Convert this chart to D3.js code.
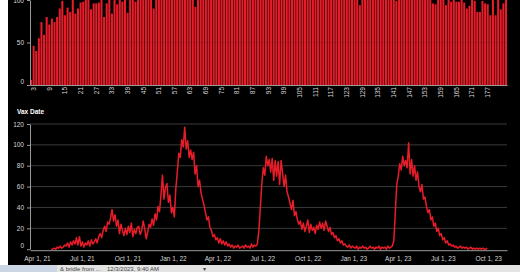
<!DOCTYPE html>
<html lang="en">
<head>
<meta charset="UTF-8">
<title>Vax Date</title>
<script src="https://cdn.jsdelivr.net/npm/d3@7"></script>
<style>
  body { margin: 0; background: #fff; }
  svg { display: block; font-family: "Liberation Sans", Arial, sans-serif; }
</style>
</head>
<body>
<div id="chart"></div>
<script>
// ---- top bar chart ----
const barCats = d3.range(2, 185);
const barXTicks = [3, 9, 15, 21, 27, 33, 39, 45, 51, 57, 63, 69, 75, 81, 87, 93, 99, 105, 111, 117, 123, 129, 135, 141, 147, 153, 159, 165, 171, 177];
const barYTicks = [0, 50, 100];
const barValues = [
  6, 46, 40, 55, 74, 59, 80, 71, 78, 74, 80, 90, 99, 82, 91, 86, 105, 84, 90, 97,
  98, 102, 104, 89, 96, 96, 97, 101, 80, 96, 103, 84, 106, 95, 104, 98, 107, 85,
  104, 108, 98, 110, 106, 112, 105, 109, 113, 90,
  108, 111, 104, 115, 109, 112, 107, 116, 110, 105, 113, 108, 117, 111, 106, 92,
  112, 118, 109, 121, 115, 108, 119, 113, 124, 110, 117, 106, 122, 114, 119, 111, 125, 116, 108, 120,
  113, 118, 110, 123, 116, 109, 121, 114, 119, 112, 126, 117, 108, 122, 115, 120, 111, 118, 124, 109,
  116, 121, 113, 107, 119, 125, 112, 117, 110, 122, 114, 118, 109, 123, 116, 111, 120, 113, 107, 119,
  115, 110, 94,
  108, 115, 111, 119, 106, 113, 117, 104, 112, 109, 116, 103, 110, 99,
  107, 112, 104, 109, 115, 102, 108, 111, 105, 103, 109, 101, 106,
  96, 95, 101, 103, 100, 94, 100, 98, 101, 98, 98, 100, 97, 90, 93, 102, 99, 86, 86, 99,
  96, 95, 82, 101, 82, 100, 89, 96, 100
];

// ---- bottom line chart (one value every 3 days) ----
const vaxStart = "2021-04-30";
const vaxStepDays = 3;
const vaxValues = [
  0, 0, 1, 0, 2, 1, 3, 1, 2, 4,
  3, 6, 2, 7, 4, 8, 5, 11, 4, 12,
  3, 7, 2, 6, 4, 8, 3, 9, 5, 7,
  10, 6, 12, 15, 11, 18, 22, 17, 26, 24,
  30, 38, 27, 33, 22, 28, 15, 24, 18, 13,
  20, 14, 22, 16, 25, 12, 19, 15, 21, 22,
  14, 18, 27, 20, 10, 16, 24, 21, 29, 23,
  34, 28, 41, 36, 52, 71, 48, 59, 63, 45,
  52, 35, 40, 31, 58, 74, 92, 88, 105, 98,
  117, 96, 104, 88, 95, 86, 93, 72, 80, 60,
  66, 54, 48, 42, 35, 28, 31, 21, 18, 12,
  14, 9, 11, 6, 10, 5, 8, 4, 7, 3,
  5, 2, 4, 1, 3, 2, 4, 1, 2, 3,
  1, 4, 2, 3, 1, 5, 2, 4, 3, 5,
  18, 40, 63, 78, 71, 89, 80, 86, 74, 87,
  66, 85, 70, 84, 62, 85, 73, 60, 71, 55,
  50, 44, 38, 47, 32, 36, 28, 24, 27, 19,
  25, 17, 22, 28, 16, 24, 18, 21, 15, 23,
  19, 26, 20, 25, 18, 27, 22, 17, 21, 14,
  16, 11, 13, 8, 10, 6, 8, 4, 5, 3,
  2, 4, 1, 3, 2, 1, 3, 0, 2, 1,
  3, 1, 2, 0, 1, 3, 1, 2, 0, 2,
  1, 3, 0, 2, 1, 2, 0, 3, 1, 2,
  3, 8, 35, 62, 70, 82, 76, 89, 80, 85,
  78, 102, 72, 86, 70, 80, 66, 74, 60, 55,
  62, 48, 50, 41, 35, 38, 28, 31, 22, 25,
  17, 20, 13, 15, 9, 11, 6, 8, 4, 5,
  3, 4, 2, 3, 1, 2, 3, 1, 2, 1,
  2, 0, 1, 2, 0, 1, 0, 1, 0, 1,
  0, 1, 0, 0, 1
];
const vaxXTicks = ["2021-04-01", "2021-07-01", "2021-10-01", "2022-01-01", "2022-04-01", "2022-07-01",
                   "2022-10-01", "2023-01-01", "2023-04-01", "2023-07-01", "2023-10-01"];
const vaxYTicks = [0, 20, 40, 60, 80, 100, 120];

const W = 520, H = 272;
const red = "#e91d2a";
const parse = d3.timeParse("%Y-%m-%d");

const svg = d3.select("#chart").append("svg").attr("width", W).attr("height", H);
svg.append("rect").attr("width", W).attr("height", H).attr("fill", "#fff");
svg.append("rect").attr("x", 8).attr("width", W - 8).attr("height", 265).attr("fill", "#000");

function styleAxis(g) {
  g.select(".domain").attr("stroke", "#9a9a9a");
  g.selectAll(".tick line").attr("stroke", "#9a9a9a");
  g.selectAll(".tick text").attr("fill", "#d6d6d6").style("font-size", "6.5px");
}

// top chart
const xBar = d3.scaleBand().domain(barCats).range([30, 507]).paddingInner(0.22).paddingOuter(0);
const yBar = d3.scaleLinear().domain([0, 100]).range([85, 0]);

const barG = svg.append("g");
barG.selectAll("rect.bar")
  .data(barValues)
  .join("rect")
  .attr("class", "bar")
  .attr("x", (d, i) => xBar(barCats[i]))
  .attr("y", d => yBar(d))
  .attr("width", xBar.bandwidth())
  .attr("height", d => yBar(0) - yBar(d))
  .attr("fill", red);

barG.append("line")
  .attr("x1", 30).attr("x2", 507)
  .attr("y1", yBar(50)).attr("y2", yBar(50))
  .attr("stroke", "#000").attr("stroke-opacity", 0.1);

barG.append("g")
  .attr("transform", "translate(30,0)")
  .call(d3.axisLeft(yBar).tickValues(barYTicks).tickSize(3).tickSizeOuter(0).tickPadding(3))
  .call(styleAxis)
  .selectAll(".tick text").filter(d => d === 0).attr("y", -4);

barG.append("g")
  .attr("transform", `translate(0,${yBar(0)})`)
  .call(d3.axisBottom(xBar).tickValues(barXTicks).tickSize(0).tickSizeOuter(0))
  .call(styleAxis)
  .selectAll(".tick text")
  .attr("transform", "rotate(-90)")
  .attr("x", -2)
  .attr("y", 0)
  .attr("dy", "0.35em")
  .style("text-anchor", "end");

// bottom chart
const xDate = d3.scaleTime().domain([parse("2021-03-18"), parse("2023-11-08")]).range([30, 507]);
const yVax = d3.scaleLinear().domain([0, 120]).range([249.2, 124]);

const lineG = svg.append("g");
lineG.append("text")
  .attr("x", 17).attr("y", 113.5)
  .attr("fill", "#fff")
  .style("font-size", "6.5px")
  .style("font-weight", "bold")
  .text("Vax Date");

lineG.selectAll("line.grid")
  .data(vaxYTicks.filter(d => d > 0))
  .join("line")
  .attr("class", "grid")
  .attr("x1", 30).attr("x2", 507)
  .attr("y1", d => yVax(d)).attr("y2", d => yVax(d))
  .attr("stroke", "#3a3a3a");

const startDate = parse(vaxStart);
const line = d3.line()
  .x((d, i) => xDate(d3.timeDay.offset(startDate, i * vaxStepDays)))
  .y(d => yVax(d));

lineG.append("path")
  .datum(vaxValues)
  .attr("d", line)
  .attr("fill", "none")
  .attr("stroke", red)
  .attr("stroke-width", 1.5)
  .attr("stroke-linejoin", "round");

lineG.append("g")
  .attr("transform", "translate(30,0)")
  .call(d3.axisLeft(yVax).tickValues(vaxYTicks).tickSize(3).tickSizeOuter(0).tickPadding(3))
  .call(styleAxis)
  .selectAll(".tick text").filter(d => d === 0).attr("y", -4);

lineG.append("g")
  .attr("transform", `translate(0,${yVax(0) + 1})`)
  .call(d3.axisBottom(xDate).tickValues(vaxXTicks.map(parse)).tickFormat(d3.timeFormat("%b %-d, %y"))
    .tickSize(0).tickSizeOuter(0).tickPadding(6))
  .call(styleAxis);

// screenshot taskbar strip at the bottom
svg.append("rect").attr("y", 265).attr("width", W).attr("height", 7).attr("fill", "#e3e3e3");
svg.append("rect").attr("y", 265).attr("width", 57).attr("height", 7).attr("fill", "#cbd6e4");
svg.append("text").attr("x", 60).attr("y", 271).attr("fill", "#444").style("font-size", "6px").text("& bridle from ...");
svg.append("text").attr("x", 107).attr("y", 271).attr("fill", "#444").style("font-size", "6px").text("12/3/2023, 9:40 AM");
svg.append("text").attr("x", 203).attr("y", 271).attr("fill", "#444").style("font-size", "6px").text("▾");
</script>
</body>
</html>
